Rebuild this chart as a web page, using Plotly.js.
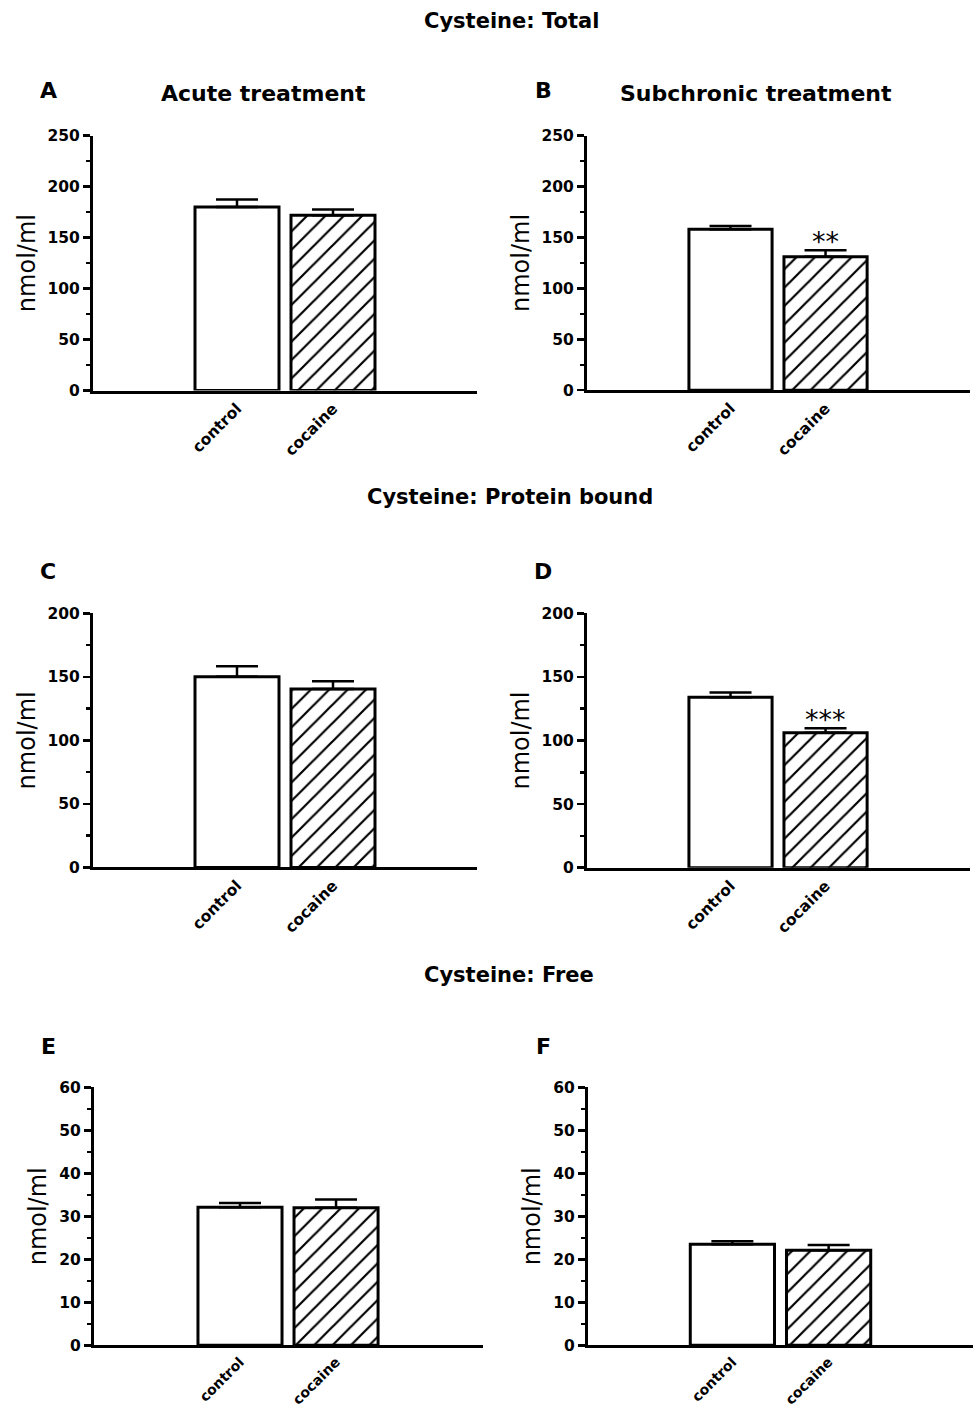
<!DOCTYPE html>
<html>
<head>
<meta charset="utf-8">
<script src="https://cdn.plot.ly/plotly-3.0.1.min.js"></script>
<style>
  html, body { margin: 0; padding: 0; background: #fff; }
  #chart { width: 974px; height: 1411px; }
</style>
</head>
<body>
<div id="chart"></div>
<script>
// ---------- data ----------
const groups = ['control', 'cocaine'];

const sectionTitles = ['Cysteine: Total', 'Cysteine: Protein bound', 'Cysteine: Free'];
const columnTitles = ['Acute treatment', 'Subchronic treatment'];
const panelLetters = ['A', 'B', 'C', 'D', 'E', 'F'];
const yTitle = 'nmol/ml';

// means (nmol/ml)
const totalAcute = [180, 172];
const totalSubchronic = [158, 131];
const boundAcute = [150, 140.5];
const boundSubchronic = [134, 106];
const freeAcute = [32.1, 32.0];
const freeSubchronic = [23.5, 22.1];

// SEM (upper error bars)
const totalAcuteErr = [7.5, 5.5];
const totalSubchronicErr = [3.3, 6.5];
const boundAcuteErr = [8.3, 6.0];
const boundSubchronicErr = [3.7, 3.7];
const freeAcuteErr = [1.0, 1.9];
const freeSubchronicErr = [0.7, 1.2];

// significance marks
const totalSubchronicSig = ['', '**'];
const boundSubchronicSig = ['', '***'];

// y-axis scales
const yMaxTotal = 250, yMaxBound = 200, yMaxFree = 60;

// ---------- layout helpers ----------
const W = 974, H = 1411;
const FONT = 'DejaVu Sans, Arial, sans-serif';
const px = v => v / W;
const py = v => 1 - v / H;

const panels = [
  {vals: totalAcute, err: totalAcuteErr, sig: null, ymax: yMaxTotal, dtick: 50, minor: 25, xfs: 15.5,
   x0: 93, x1: 477, yt: 135.7, yb: 390.5, range: [-1.5, 2.5]},
  {vals: totalSubchronic, err: totalSubchronicErr, sig: totalSubchronicSig, ymax: yMaxTotal, dtick: 50, minor: 25, xfs: 15.5,
   x0: 587, x1: 970, yt: 135.7, yb: 390.2, range: [-1.51, 2.52]},
  {vals: boundAcute, err: boundAcuteErr, sig: null, ymax: yMaxBound, dtick: 50, minor: 25, xfs: 15.5,
   x0: 93, x1: 477, yt: 613.3, yb: 867.4, range: [-1.5, 2.5]},
  {vals: boundSubchronic, err: boundSubchronicErr, sig: boundSubchronicSig, ymax: yMaxBound, dtick: 50, minor: 25, xfs: 15.5,
   x0: 587, x1: 970, yt: 613.3, yb: 867.7, range: [-1.51, 2.52]},
  {vals: freeAcute, err: freeAcuteErr, sig: null, ymax: yMaxFree, dtick: 10, minor: 5, xfs: 14,
   x0: 94, x1: 483, yt: 1087.3, yb: 1345.3, range: [-1.52, 2.53]},
  {vals: freeSubchronic, err: freeSubchronicErr, sig: null, ymax: yMaxFree, dtick: 10, minor: 5, xfs: 14,
   x0: 588, x1: 973, yt: 1087.3, yb: 1345.3, range: [-1.5, 2.5]}
];

const data = [];
const layout = {
  width: W, height: H,
  margin: {l: 0, r: 0, t: 0, b: 0, pad: 0},
  paper_bgcolor: '#fff', plot_bgcolor: 'rgba(0,0,0,0)',
  showlegend: false,
  bargap: 0.125,
  font: {family: FONT, color: '#000'},
  annotations: []
};

panels.forEach((p, i) => {
  const n = i === 0 ? '' : String(i + 1);
  const xa = 'x' + n, ya = 'y' + n;
  data.push({
    type: 'bar',
    x: groups,
    y: p.vals,
    xaxis: xa, yaxis: ya,
    width: 0.875,
    marker: {
      color: '#fff',
      line: {color: '#000', width: 3},
      pattern: {shape: ['', '/'], fgcolor: '#000', bgcolor: '#fff', size: 13, solidity: 0.17, fillmode: 'replace'}
    },
    error_y: {type: 'data', symmetric: false, array: p.err, arrayminus: [0, 0],
              color: '#000', thickness: 2.5, width: 21},
    hoverinfo: 'skip'
  });
  layout['xaxis' + n] = {
    domain: [px(p.x0), px(p.x1)],
    anchor: ya,
    type: 'category',
    categoryorder: 'array', categoryarray: groups,
    range: p.range,
    showline: true, linecolor: '#000', linewidth: 3,
    ticks: '', showgrid: false, zeroline: false,
    tickangle: -45,
    tickfont: {family: FONT, size: p.xfs, color: '#000', weight: 'bold'},
    fixedrange: true
  };
  layout['yaxis' + n] = {
    domain: [py(p.yb), py(p.yt)],
    anchor: xa,
    range: [0, p.ymax],
    dtick: p.dtick, tick0: 0,
    showline: true, linecolor: '#000', linewidth: 3,
    ticks: 'outside', ticklen: 7, tickwidth: 2.5, tickcolor: '#000',
    minor: {dtick: p.minor, ticks: 'outside', ticklen: 4, tickwidth: 2.5, tickcolor: '#000', showgrid: false},
    showgrid: false, zeroline: false,
    tickfont: {family: FONT, size: 15.5, color: '#000', weight: 'bold'},
    title: {text: yTitle, font: {family: FONT, size: 24, color: '#000'}, standoff: 6},
    fixedrange: true
  };
  if (p.sig) {
    p.sig.forEach((s, k) => {
      if (!s) return;
      layout.annotations.push({
        xref: xa, yref: ya, x: groups[k], y: p.vals[k] + p.err[k],
        text: s, showarrow: false, yanchor: 'bottom', yshift: -9,
        font: {family: FONT, size: 27, color: '#000'}
      });
    });
  }
});

// section titles
const sectionY = [21, 497, 975];
const sectionX = [511, 510, 509];
sectionTitles.forEach((t, k) => {
  layout.annotations.push({xref: 'paper', yref: 'paper', x: px(sectionX[k]), y: py(sectionY[k]),
    text: t, showarrow: false, xanchor: 'center', yanchor: 'middle',
    font: {family: FONT, size: 21, color: '#000', weight: 'bold'}});
});
// panel letters
const letterX = [48, 543, 48, 543, 48, 543];
const letterY = [91, 91, 571, 571, 1046, 1046];
panelLetters.forEach((t, k) => {
  layout.annotations.push({xref: 'paper', yref: 'paper', x: px(letterX[k]), y: py(letterY[k]),
    text: t, showarrow: false, xanchor: 'center', yanchor: 'middle',
    font: {family: FONT, size: 22, color: '#000', weight: 'bold'}});
});
// column titles
const colX = [263, 756];
columnTitles.forEach((t, k) => {
  layout.annotations.push({xref: 'paper', yref: 'paper', x: px(colX[k]), y: py(93),
    text: t, showarrow: false, xanchor: 'center', yanchor: 'middle',
    font: {family: FONT, size: 22, color: '#000', weight: 'bold'}});
});

Plotly.newPlot('chart', data, layout, {displayModeBar: false, staticPlot: true});
</script>
</body>
</html>
